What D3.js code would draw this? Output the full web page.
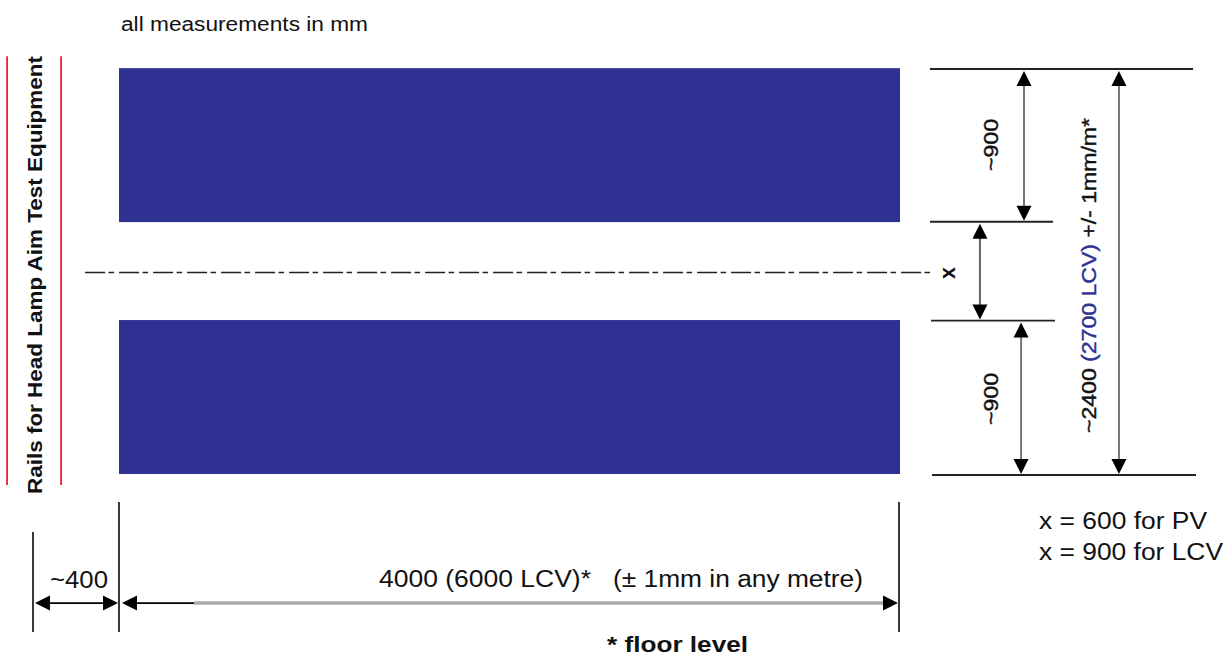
<!DOCTYPE html>
<html>
<head>
<meta charset="utf-8">
<script src="https://cdn.jsdelivr.net/npm/d3@7"></script>
<style>
  html, body { margin: 0; background: #fff; }
  text { font-family: "Liberation Sans", Arial, sans-serif; fill: #111; }
</style>
</head>
<body>
<svg id="chart" width="1230" height="657"></svg>
<script>
const lanes = [[6, 916], [1495, 2405]];
const laneLength = [0, 4000];
const centreLine = { from: -174, to: 4159, h: 1197 };
const rails = [-574, -297];
const railSpan = [-59, 2476];

const extensionLines = [
  { h: 2400, from: 4159, to: 5508 },
  { h: 1497, from: 4159, to: 4790 },
  { h: 913, from: 4164, to: 4800 },
  { h: 0, from: 4169, to: 5523 },
];
const verticalDims = [
  { at: 4641, from: 1497, to: 2400, stroke: "#777" },
  { at: 4415, from: 913, to: 1497, stroke: "#666" },
  { at: 4626, from: 0, to: 913, stroke: "#777" },
  { at: 5128, from: 0, to: 2400, stroke: "#777" },
];
const bottomLines = [
  { at: -441, from: -337, to: -928 },
  { at: 0, from: -160, to: -928 },
  { at: 4000, from: -160, to: -928 },
];
const dimHeight = -757;

const svg = d3.select("#chart");
const x = d3.scaleLinear().domain([0, 4000]).range([119, 899]);
const y = d3.scaleLinear().domain([0, 2400]).range([475, 69]);

svg.selectAll("rect.lane").data(lanes).enter().append("rect")
  .attr("class", "lane")
  .attr("x", x(laneLength[0]))
  .attr("width", x(laneLength[1]) - x(laneLength[0]) + 1)
  .attr("y", d => y(d[1]))
  .attr("height", d => y(d[0]) - y(d[1]))
  .attr("fill", "#2e3192");

svg.selectAll("line.rail").data(rails).enter().append("line")
  .attr("class", "rail")
  .attr("x1", d => x(d)).attr("x2", d => x(d))
  .attr("y1", y(railSpan[1])).attr("y2", y(railSpan[0]))
  .attr("stroke", "#f0202f").attr("stroke-width", 1.8);

svg.append("line")
  .attr("x1", x(centreLine.from)).attr("x2", x(centreLine.to))
  .attr("y1", y(centreLine.h)).attr("y2", y(centreLine.h))
  .attr("stroke", "#222").attr("stroke-width", 1.6)
  .attr("stroke-dasharray", "20,3.5,5.5,5");

svg.selectAll("line.ext").data(extensionLines).enter().append("line")
  .attr("class", "ext")
  .attr("x1", d => x(d.from)).attr("x2", d => x(d.to))
  .attr("y1", d => y(d.h)).attr("y2", d => y(d.h))
  .attr("stroke", "#222").attr("stroke-width", 1.8);

svg.selectAll("line.bottom").data(bottomLines).enter().append("line")
  .attr("class", "bottom")
  .attr("x1", d => x(d.at)).attr("x2", d => x(d.at))
  .attr("y1", d => y(d.from)).attr("y2", d => y(d.to))
  .attr("stroke", "#222").attr("stroke-width", 1.8);

// arrow head pointing along (dx, dy), tip at (px, py)
function head(px, py, dx, dy) {
  const len = 15, half = 7.5;
  const bx = px - dx * len, by = py - dy * len;
  svg.append("path")
    .attr("d", d3.line()([[px, py], [bx - dy * half, by + dx * half], [bx + dy * half, by - dx * half]]))
    .attr("fill", "#000");
}

verticalDims.forEach(d => {
  const top = y(d.to) + 2, bot = y(d.from) - 1;
  svg.append("line")
    .attr("x1", x(d.at)).attr("x2", x(d.at))
    .attr("y1", top + 10).attr("y2", bot - 10)
    .attr("stroke", d.stroke).attr("stroke-width", 2);
  head(x(d.at), top, 0, -1);
  head(x(d.at), bot, 0, 1);
});

// ~400 dimension
svg.append("line")
  .attr("x1", x(-441) + 10).attr("x2", x(0) - 10)
  .attr("y1", y(dimHeight)).attr("y2", y(dimHeight))
  .attr("stroke", "#000").attr("stroke-width", 1.8);
head(x(-441) + 2, y(dimHeight), -1, 0);
head(x(0) - 1, y(dimHeight), 1, 0);

// 4000 dimension: short black start, then grey
svg.append("line")
  .attr("x1", x(0) + 10).attr("x2", x(385))
  .attr("y1", y(dimHeight)).attr("y2", y(dimHeight))
  .attr("stroke", "#000").attr("stroke-width", 1.8);
svg.append("line")
  .attr("x1", x(385)).attr("x2", x(4000) - 10)
  .attr("y1", y(dimHeight)).attr("y2", y(dimHeight))
  .attr("stroke", "#aaa").attr("stroke-width", 3.4);
head(x(0) + 3, y(dimHeight), -1, 0);
head(x(4000) - 1, y(dimHeight), 1, 0);

// the source drawing is stretched, so text is fitted to its measured length
function label(str, px, py, size, len, opts = {}) {
  const t = svg.append("text")
    .attr("x", px).attr("y", py)
    .attr("font-size", size)
    .attr("font-weight", opts.bold ? "bold" : "normal")
    .attr("textLength", len)
    .attr("lengthAdjust", "spacingAndGlyphs")
    .text(str);
  if (opts.rotate) t.attr("transform", `rotate(-90,${px},${py})`);
  if (opts.semi) t.style("stroke", "#111").style("stroke-width", 0.4);
  return t;
}

label("all measurements in mm", 121, 31, 20, 247);
label("Rails for Head Lamp Aim Test Equipment", 42, 494, 20, 438, { bold: true, rotate: true });
label("~900", 998, 171, 20, 52, { rotate: true, semi: true });
label("~900", 998, 425, 20, 52, { rotate: true, semi: true });
label("x", 955, 279, 22, 12, { bold: true, rotate: true });

const total = label("", 1096, 433, 20, 315, { rotate: true, semi: true });
total.append("tspan").text("~2400 ");
total.append("tspan").text("(2700 LCV)").style("fill", "#2e3192").style("stroke", "#2e3192");
total.append("tspan").text(" +/- 1mm/m*");

label("~400", 50, 588, 23, 58);
label("4000 (6000 LCV)*", 379, 587, 23, 212);
label("(\u00b1 1mm in any metre)", 613, 587, 23, 250);
label("x = 600 for PV", 1039, 529, 23, 168);
label("x = 900 for LCV", 1039, 560, 23, 184);
label("* floor level", 607, 652, 22, 141, { bold: true });
</script>
</body>
</html>
